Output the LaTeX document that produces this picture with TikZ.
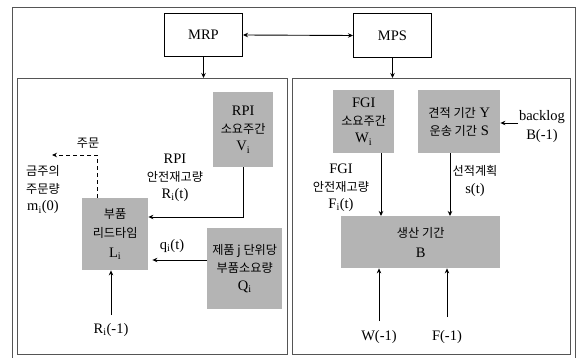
\documentclass[tikz,border=0pt]{standalone}
\usepackage{fontspec}
\setmainfont{Liberation Serif}
\newfontfamily\kr[Scale=0.84]{Noto Sans CJK KR}
\usetikzlibrary{arrows.meta,calc}
\definecolor{boxgray}{RGB}{180,180,180}
\definecolor{framegray}{RGB}{85,85,85}
\newcommand{\K}[1]{{\kr #1}}
\newcommand{\sub}[1]{\textsubscript{#1}}
\begin{document}
\begin{tikzpicture}[x=1pt,y=-1pt,
  font=\fontsize{14.5}{17.5}\selectfont,
  arr/.style={-{Stealth[length=5pt,width=4.5pt]},line width=0.9pt},
  frame/.style={draw=framegray,line width=1.3pt,inner sep=0pt,anchor=north west},
  wbox/.style={draw,line width=1pt,fill=white,inner sep=0pt,anchor=north west,align=center},
  gbox/.style={fill=boxgray,inner sep=0pt,anchor=north west,align=center},
  lbl/.style={inner sep=0pt,align=center}]
\useasboundingbox (0,0) rectangle (576,358);
\fill[white] (0,0) rectangle (576,358);
% frames
\node[frame,minimum width=563pt,minimum height=351pt] (outer) at (12,7) {};
\node[frame,minimum width=270pt,minimum height=276pt] (lb) at (17,78) {};
\node[frame,minimum width=278pt,minimum height=276pt] (rb) at (292,78) {};
% top boxes
\node[wbox,minimum width=78pt,minimum height=43pt] (mrp) at (164,13) {MRP};
\node[wbox,minimum width=78pt,minimum height=44pt] (mps) at (353,13) {MPS};
\draw[{Stealth[length=5pt,width=4.5pt]}-{Stealth[length=5pt,width=4.5pt]},line width=0.9pt] (mrp.east) -- (mps.west);
\draw[arr] (mrp.south) -- (mrp.south |- lb.north);
\draw[arr] (mps.south) -- (mps.south |- rb.north);
% left gray boxes
\node[gbox,minimum width=60pt,minimum height=75pt] (rpi) at (213,92) {RPI\\\K{소요주간}\\V\sub{i}};
\node[gbox,minimum width=66pt,minimum height=72pt,font=\fontsize{14.5}{19.5}\selectfont] (lt) at (82,198) {\K{부품}\\\K{리드타임}\\L\sub{i}};
\node[gbox,minimum width=75pt,minimum height=81pt,font=\fontsize{14.5}{18}\selectfont] (q) at (207,228) {\K{제품 j 단위당}\\\K{부품소요량}\\Q\sub{i}};
% right gray boxes
\node[gbox,minimum width=61pt,minimum height=63pt] (w) at (333,90) {FGI\\\K{소요주간}\\W\sub{i}};
\node[gbox,minimum width=82pt,minimum height=63pt] (ys) at (418,90) {\K{견적 기간} Y\\\K{운송 기간} S};
\node[gbox,minimum width=159pt,minimum height=52pt,font=\fontsize{14.5}{20}\selectfont] (b) at (341,216) {\K{생산 기간}\\B};
% left labels
\node[lbl] (ord) at (88,143) {\K{주문}};
\node[lbl] (mi) at (43,190) {\K{금주의}\\\K{주문량}\\m\sub{i}(0)};
\node[lbl] (rt) at (175,178) {RPI\\\K{안전재고량}\\R\sub{i}(t)};
\node[lbl] (qt) at (172,246) {q\sub{i}(t)};
\node[lbl] (r1) at (111,330) {R\sub{i}(-1)};
% right labels
\node[lbl] (ft) at (341,188) {FGI\\\K{안전재고량}\\F\sub{i}(t)};
\node[lbl] (st) at (475,181) {\K{선적계획}\\s(t)};
\node[lbl,font=\fontsize{14.5}{19}\selectfont] (bl) at (542,127) {backlog\\B(-1)};
\node[lbl] (w1) at (379,337) {W(-1)};
\node[lbl] (f1) at (447,337) {F(-1)};
% left connectors
\coordinate (ry) at (0,217);
\draw[arr] (rpi.south) |- (lt.east |- ry);
\coordinate (qy) at (0,260);
\draw[arr] (q.west |- qy) -- ([xshift=4pt]lt.east |- qy);
\draw[arr] (r1.north) ++(0,-8) -- (r1.north |- lt.south);
\coordinate (dx) at (97,0);
\coordinate (dend) at (52,155);
\draw[arr,dashed,dash pattern=on 4pt off 3pt] (dx |- lt.north) |- (dend);
% right connectors
\coordinate (wx) at (381,0);
\draw[arr] (wx |- w.south) -- (wx |- b.north);
\coordinate (sx) at (450,0);
\draw[arr] (sx |- ys.south) -- (sx |- b.north);
\coordinate (bx) at (518,123);
\draw[arr] (bx) -- (ys.east |- bx);
\draw[arr] (w1.north) ++(0,-9) -- (w1.north |- b.south);
\draw[arr] (f1.north) ++(0,-13) -- (f1.north |- b.south);
\end{tikzpicture}
\end{document}
